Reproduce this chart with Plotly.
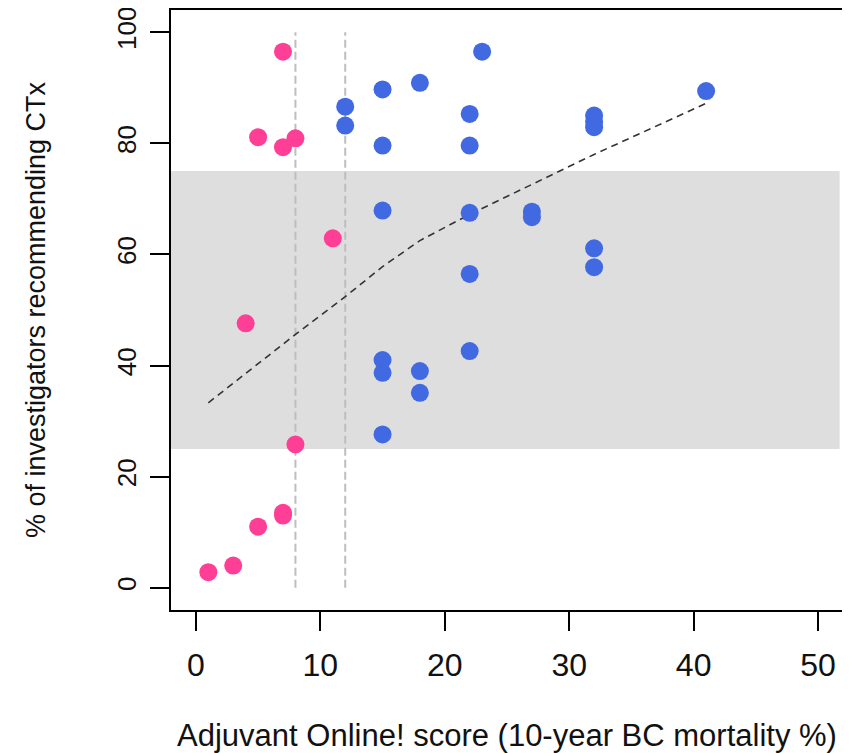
import plotly.graph_objects as go

# ---- data ----
pink_x = [1, 3, 4, 5, 5, 7, 7, 7, 7, 8, 8, 11]
pink_y = [2.8, 4.0, 47.6, 11.0, 81.1, 13.0, 13.5, 79.3, 96.5, 80.9, 25.8, 62.9]

blue_x = [12, 12, 15, 15, 15, 15, 15, 15, 18, 18, 18, 22, 22, 22, 22, 22, 23,
          27, 27, 32, 32, 32, 32, 32, 41]
blue_y = [86.6, 83.2, 89.7, 79.6, 67.9, 41.0, 38.7, 27.6, 90.9, 39.0, 35.1,
          85.3, 79.6, 67.5, 56.5, 42.6, 96.5, 67.7, 66.7, 85.0, 83.9, 82.9,
          61.1, 57.7, 89.4]

fit_x = [1, 3, 4, 5, 7, 8, 11, 12, 15, 18, 22, 23, 27, 32, 41]
fit_y = [33.3, 36.8, 38.6, 40.3, 43.9, 45.6, 50.7, 52.4, 57.8, 62.5, 67.2,
         68.3, 72.6, 78.0, 87.2]

cutoffs = [8, 12]
cutoff_span = [0, 100]
band = [25, 75]

x_ticks = [0, 10, 20, 30, 40, 50]
y_ticks = [0, 20, 40, 60, 80, 100]

x_title = "Adjuvant Online! score (10-year BC mortality %)"
y_title = "% of investigators recommending CTx"

FONT = "Liberation Sans, Arial, sans-serif"
PINK = "#FF3E96"
BLUE = "#4169E1"
TXT = "#111111"

fig = go.Figure()

# shaded band
fig.add_shape(type="rect", xref="paper", x0=0, x1=0.995, yref="y",
              y0=band[0], y1=band[1], fillcolor="#DEDEDE",
              line=dict(width=0), layer="below")

# vertical cutoff lines
for c in cutoffs:
    fig.add_trace(go.Scatter(x=[c, c], y=cutoff_span, mode="lines",
                             line=dict(color="#BEBEBE", width=2, dash="8px,4px"),
                             hoverinfo="skip", showlegend=False))

# fitted dashed curve
fig.add_trace(go.Scatter(x=fit_x, y=fit_y, mode="lines",
                         line=dict(color="#333333", width=1.6, dash="7px,5px"),
                         showlegend=False))

# points
fig.add_trace(go.Scatter(x=pink_x, y=pink_y, mode="markers",
                         marker=dict(color=PINK, size=18, line=dict(width=0)),
                         showlegend=False))
fig.add_trace(go.Scatter(x=blue_x, y=blue_y, mode="markers",
                         marker=dict(color=BLUE, size=18, line=dict(width=0)),
                         showlegend=False))

axis_common = dict(showgrid=False, zeroline=False, showline=True, mirror=True,
                   linecolor="#000000", linewidth=1.5, ticks="outside",
                   ticklen=19, tickwidth=1.5, tickcolor="#000000",
                   automargin=False, ticklabeloverflow="allow")

fig.update_xaxes(range=[-2, 52], tickvals=x_ticks, ticktext=[str(v) for v in x_ticks],
                 ticklabelstandoff=7,
                 tickfont=dict(family=FONT, size=32, color=TXT),
                 title=dict(text=x_title, font=dict(family=FONT, size=31, color=TXT),
                            standoff=47),
                 **axis_common)
fig.update_yaxes(range=[-4, 104], tickvals=y_ticks, ticktext=[str(v) for v in y_ticks],
                 tickangle=-90, ticklabelstandoff=4,
                 tickfont=dict(family=FONT, size=26, color=TXT),
                 title=dict(text=y_title, font=dict(family=FONT, size=27, color=TXT),
                            standoff=58),
                 **axis_common)

# page body has an 8px default margin, so the figure is offset by 8px
fig.update_layout(width=842, height=745, template="none",
                  margin=dict(l=163, r=7, t=2, b=143, pad=0),
                  plot_bgcolor="white", paper_bgcolor="white",
                  font=dict(family=FONT))

fig.write_html("out.html")
